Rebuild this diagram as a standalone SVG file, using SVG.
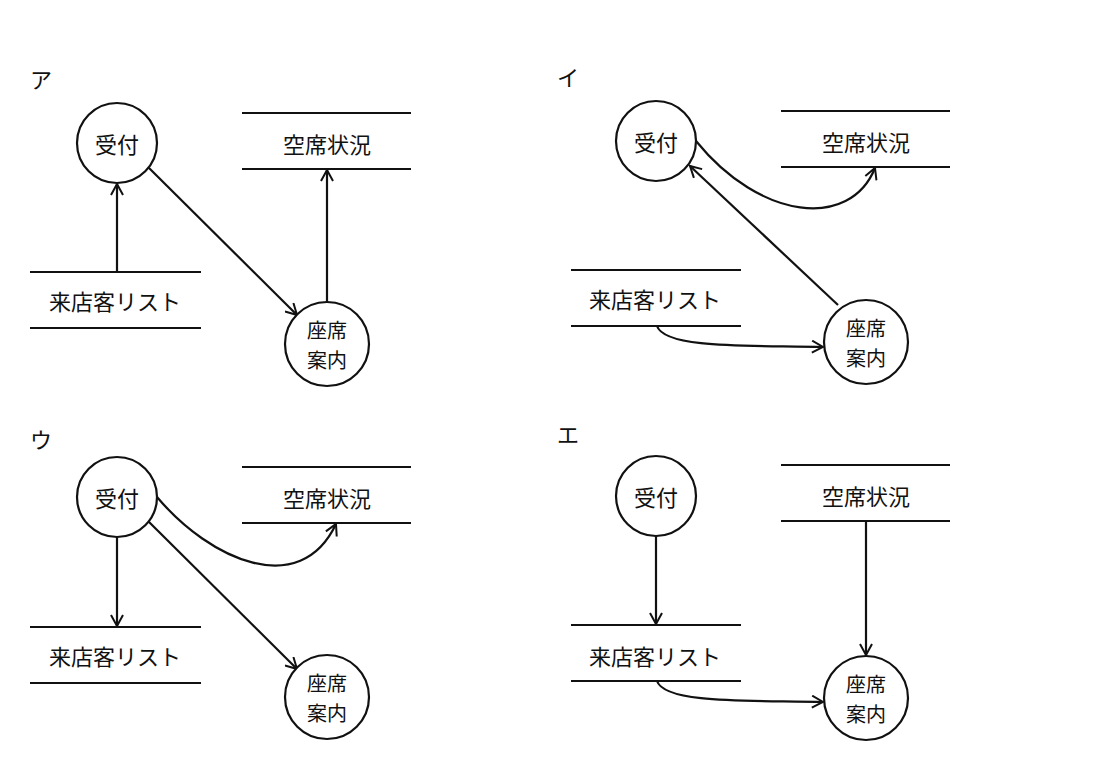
<svg xmlns="http://www.w3.org/2000/svg" width="1103" height="781" viewBox="0 0 1103 781">
<style>
text{font-family:"Noto Sans CJK JP","Noto Sans",sans-serif;font-size:22px;fill:#111;text-anchor:middle;dominant-baseline:central}
.lbl{text-anchor:start}
.two{font-size:20px}
circle{fill:#fff;stroke:#111;stroke-width:2.2}
.st{stroke:#111;stroke-width:2.2}
.c{fill:none;stroke:#111;stroke-width:2.2;marker-end:url(#a)}
</style>
<defs><marker id="a" markerWidth="14" markerHeight="14" refX="12" refY="7" orient="auto" markerUnits="userSpaceOnUse"><path d="M1,1 L12,7 L1,13" fill="none" stroke="#111" stroke-width="2"/></marker></defs>
<rect width="1103" height="781" fill="#fff"/>
<text class="lbl" x="30" y="78">ア</text>
<text class="lbl" x="557" y="76">イ</text>
<text class="lbl" x="30" y="438">ウ</text>
<text class="lbl" x="557" y="433">エ</text>
<g id="connectors">
<path class="c" d="M117,272 L117,184"/>
<path class="c" d="M148,167 L297,315"/>
<path class="c" d="M327,302 L327,170"/>
<path class="c" d="M696,141 C760,220 850,230 875,168"/>
<path class="c" d="M838,305 L690,166"/>
<path class="c" d="M657,326 C665,350 760,345 823,347"/>
<path class="c" d="M117,537 L117,626"/>
<path class="c" d="M157,497 C210,560 300,600 336,524"/>
<path class="c" d="M148,521 L297,669"/>
<path class="c" d="M656,536 L656,624"/>
<path class="c" d="M866,521 L866,655"/>
<path class="c" d="M657,681 C665,705 760,700 823,702"/>
</g>
<g id="a-uketsuke"><circle cx="117" cy="143" r="40"/><text x="117" y="143">受付</text></g>
<g id="a-kuseki"><line class="st" x1="242" y1="113" x2="411" y2="113"/><line class="st" x1="242" y1="169" x2="411" y2="169"/><text x="327" y="143">空席状況</text></g>
<g id="a-list"><line class="st" x1="30" y1="272" x2="201" y2="272"/><line class="st" x1="30" y1="328" x2="201" y2="328"/><text x="115" y="300">来店客リスト</text></g>
<g id="a-annai"><circle cx="327" cy="344" r="42"/><text class="two" x="327" y="329">座席</text><text class="two" x="327" y="359">案内</text></g>
<g id="i-uketsuke"><circle cx="656" cy="141" r="40"/><text x="656" y="141">受付</text></g>
<g id="i-kuseki"><line class="st" x1="781" y1="111" x2="950" y2="111"/><line class="st" x1="781" y1="167" x2="950" y2="167"/><text x="866" y="141">空席状況</text></g>
<g id="i-list"><line class="st" x1="571" y1="270" x2="741" y2="270"/><line class="st" x1="571" y1="326" x2="741" y2="326"/><text x="655" y="298">来店客リスト</text></g>
<g id="i-annai"><circle cx="866" cy="342" r="42"/><text class="two" x="866" y="327">座席</text><text class="two" x="866" y="357">案内</text></g>
<g id="u-uketsuke"><circle cx="117" cy="497" r="40"/><text x="117" y="497">受付</text></g>
<g id="u-kuseki"><line class="st" x1="242" y1="467" x2="411" y2="467"/><line class="st" x1="242" y1="523" x2="411" y2="523"/><text x="327" y="497">空席状況</text></g>
<g id="u-list"><line class="st" x1="30" y1="627" x2="201" y2="627"/><line class="st" x1="30" y1="683" x2="201" y2="683"/><text x="115" y="655">来店客リスト</text></g>
<g id="u-annai"><circle cx="327" cy="697" r="42"/><text class="two" x="327" y="682">座席</text><text class="two" x="327" y="712">案内</text></g>
<g id="e-uketsuke"><circle cx="656" cy="496" r="40"/><text x="656" y="496">受付</text></g>
<g id="e-kuseki"><line class="st" x1="781" y1="465" x2="950" y2="465"/><line class="st" x1="781" y1="521" x2="950" y2="521"/><text x="866" y="495">空席状況</text></g>
<g id="e-list"><line class="st" x1="571" y1="625" x2="741" y2="625"/><line class="st" x1="571" y1="681" x2="741" y2="681"/><text x="655" y="655">来店客リスト</text></g>
<g id="e-annai"><circle cx="866" cy="698" r="42"/><text class="two" x="866" y="683">座席</text><text class="two" x="866" y="713">案内</text></g>
</svg>
